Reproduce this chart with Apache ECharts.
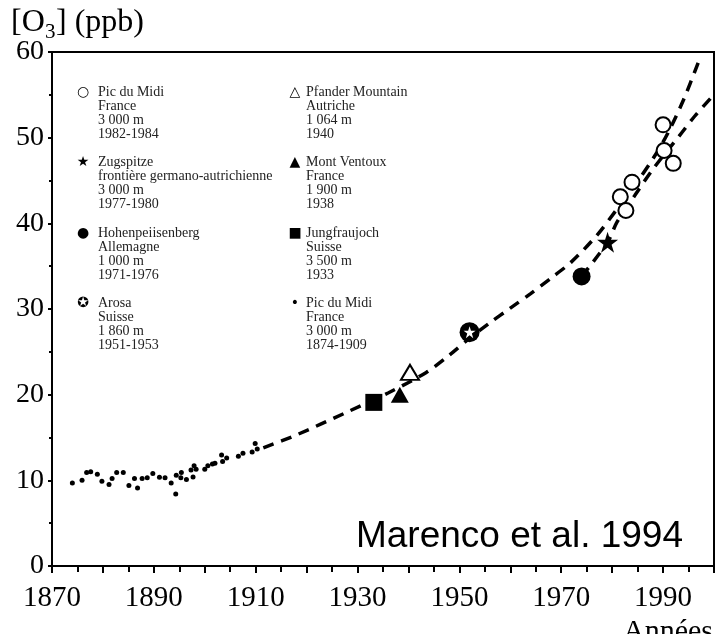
<!DOCTYPE html>
<html>
<head>
<meta charset="utf-8">
<script src="https://cdn.jsdelivr.net/npm/echarts@6/dist/echarts.min.js"></script>
<style>
html,body{margin:0;padding:0;background:#fff;}
#c{width:717px;height:634px;}
</style>
</head>
<body>
<div id="c"></div>
<script>
// ---- data (year, ppb) ----
const picDuMidi1874 = [
  [1874.0,9.7],[1875.9,10.0],[1876.8,10.9],[1877.6,11.0],[1878.9,10.7],[1879.8,9.9],
  [1881.2,9.5],[1881.8,10.2],[1882.7,10.9],[1884.0,10.9],[1885.1,9.4],[1886.2,10.2],
  [1886.8,9.1],[1887.7,10.2],[1888.7,10.3],[1889.8,10.8],[1891.1,10.35],[1892.2,10.3],
  [1893.4,9.7],[1894.3,8.4],[1894.4,10.6],[1895.4,10.9],[1895.3,10.3],[1896.4,10.1],
  [1897.3,11.2],[1897.7,10.4],[1897.9,11.7],[1898.3,11.3],[1900.0,11.3],[1900.6,11.7],
  [1901.5,11.9],[1902.0,12.0],[1903.5,12.2],[1903.3,12.95],[1904.3,12.6],[1906.6,12.8],
  [1907.5,13.15],[1909.3,13.3],[1909.9,14.3],[1910.3,13.65]
];
const jungfraujoch = [[1933.2,19.1]];
const montVentoux = [[1938.3,20.0]];
const pfander = [[1940.3,22.6]];
const arosa = [[1952.0,27.3]];
const hohenpeissenberg = [[1974.0,33.8]];
const zugspitze = [[1979.1,37.8]];
const picDuMidi1982 = [[1981.6,43.1],[1982.7,41.5],[1983.9,44.8],[1990.0,51.5],[1990.2,48.5],[1992.0,47.0]];
const trendA = [
  [1911.5,13.8],[1918,15.3],[1927.7,17.9],[1936,20.2],[1943.5,22.6],[1948,24.6],
  [1952,26.6],[1956,28.4],[1960,30.1],[1964,31.8],[1968,33.6],[1972,35.5],
  [1977,38.6],[1981,41.7],[1985,44.9],[1988.5,48.0],[1991,50.6],[1994,54.4],[1997,58.9]
];
const trendB = [
  [1974,33.8],[1979.1,37.8],[1981,40.2],[1984.5,43.3],[1988.1,46.4],[1993.3,50.3],[1996.2,52.5],[1999.5,54.7]
];
const xTicks = {min:1870, max:2000, step:10, labelStep:20};
const yTicks = {min:0, max:60, step:10};
const legendLeft = [
  {sym:'○', text:'Pic du Midi\nFrance\n3 000 m\n1982-1984'},
  {sym:'★', text:'Zugspitze\nfrontière germano-autrichienne\n3 000 m\n1977-1980'},
  {sym:'●', text:'Hohenpeiisenberg\nAllemagne\n1 000 m\n1971-1976'},
  {sym:'✪', text:'Arosa\nSuisse\n1 860 m\n1951-1953'}
];
const legendRight = [
  {sym:'△', text:'Pfander Mountain\nAutriche\n1 064 m\n1940'},
  {sym:'▲', text:'Mont Ventoux\nFrance\n1 900 m\n1938'},
  {sym:'■', text:'Jungfraujoch\nSuisse\n3 500 m\n1933'},
  {sym:'•', text:'Pic du Midi\nFrance\n3 000 m\n1874-1909'}
];
const yTitle = ['[O', '3', '] (ppb)'];
const xTitle = 'Années';
const credit = 'Marenco et al. 1994';

// ---- chart ----
const STAR = 'path://M50,2 L61.2,36.5 L97.6,36.5 L68.2,57.9 L79.4,92.5 L50,71.1 L20.6,92.5 L31.8,57.9 L2.4,36.5 L38.8,36.5 Z';
const serif = 'Liberation Serif';
const chart = echarts.init(document.getElementById('c'), null, {renderer:'canvas'});

const graphics = [];
function addLegend(list, symX, txtX) {
  list.forEach((e, i) => {
    const top = 85 + i * 70.5;
    graphics.push({type:'text', x: symX, y: top + 7, z: 10,
      style:{text:e.sym, font:'14px DejaVu Sans', fill:'#000', align:'center', verticalAlign:'middle'}});
    graphics.push({type:'text', x: txtX, y: top, z: 10,
      style:{text:e.text, font:'14px ' + serif, lineHeight:14, fill:'#222', align:'left', verticalAlign:'top'}});
  });
}
addLegend(legendLeft, 83, 98);
addLegend(legendRight, 295, 306);
graphics.push({type:'text', x:11, y:39, style:{text:yTitle[0], font:'32px ' + serif, fill:'#000', verticalAlign:'bottom'}});
graphics.push({type:'text', x:45, y:43, style:{text:yTitle[1], font:'21px ' + serif, fill:'#000', verticalAlign:'bottom'}});
graphics.push({type:'text', x:56, y:39, style:{text:yTitle[2], font:'32px ' + serif, fill:'#000', verticalAlign:'bottom'}});
graphics.push({type:'text', x:623, y:617, style:{text:xTitle, font:'30px ' + serif, fill:'#000', verticalAlign:'top'}});
graphics.push({type:'text', x:683, y:555, z:10, style:{text:credit, font:'37px Liberation Sans', fill:'#000', align:'right', verticalAlign:'bottom'}});

const dash = {color:'#000', width:3.5, type:[11,8]};
function scat(name, data, symbol, size, fill, border, z) {
  return {type:'scatter', name, data, symbol, symbolSize:size, z: z || 5,
    itemStyle:{color:fill, borderColor:'#000', borderWidth:border, opacity:1}, silent:true};
}

chart.setOption({
  animation:false,
  backgroundColor:'#fff',
  grid:{left:52, right:1, top:52, bottom:68, show:true, borderColor:'#000', borderWidth:2, containLabel:false},
  xAxis:{type:'value', min:xTicks.min, max:xTicks.max, interval:xTicks.step,
    axisLine:{show:true, onZero:false, lineStyle:{color:'#000', width:2}},
    axisTick:{show:true, length:7, lineStyle:{color:'#000', width:2}},
    minorTick:{show:true, splitNumber:2, length:6, lineStyle:{color:'#000', width:2}},
    splitLine:{show:false},
    axisLabel:{margin:18, color:'#000', fontFamily:serif, fontSize:29,
      formatter: v => ((v - xTicks.min) % xTicks.labelStep === 0 && v < xTicks.max) ? String(v) : ''}
  },
  yAxis:{type:'value', min:yTicks.min, max:yTicks.max, interval:yTicks.step,
    axisLine:{show:true, lineStyle:{color:'#000', width:2}},
    axisTick:{show:true, length:4, lineStyle:{color:'#000', width:2}},
    minorTick:{show:true, splitNumber:2, length:3, lineStyle:{color:'#000', width:2}},
    splitLine:{show:false},
    axisLabel:{margin:8, color:'#000', fontFamily:serif, fontSize:28}
  },
  graphic: graphics,
  series:[
    {type:'line', name:'trendA', data:trendA, smooth:0.3, showSymbol:false, lineStyle:dash, z:2, silent:true},
    {type:'line', name:'trendB', data:trendB, smooth:0.3, showSymbol:false, lineStyle:dash, z:2, silent:true},
    scat('Pic du Midi 1874-1909', picDuMidi1874, 'circle', 5, '#000', 0),
    scat('Jungfraujoch', jungfraujoch, 'rect', 17, '#000', 0),
    scat('Mont Ventoux', montVentoux, 'triangle', [18,16], '#000', 0),
    scat('Pfander Mountain', pfander, 'triangle', [18,15], '#fff', 2),
    scat('Arosa', arosa, 'circle', 20, '#000', 0),
    scat('Arosa star', arosa, STAR, 12, '#fff', 0, 6),
    scat('Hohenpeissenberg', hohenpeissenberg, 'circle', 18, '#000', 0),
    scat('Zugspitze', zugspitze, STAR, 21, '#000', 0),
    scat('Pic du Midi 1982-1984', picDuMidi1982, 'circle', 15, '#fff', 2)
  ]
});
</script>
</body>
</html>
